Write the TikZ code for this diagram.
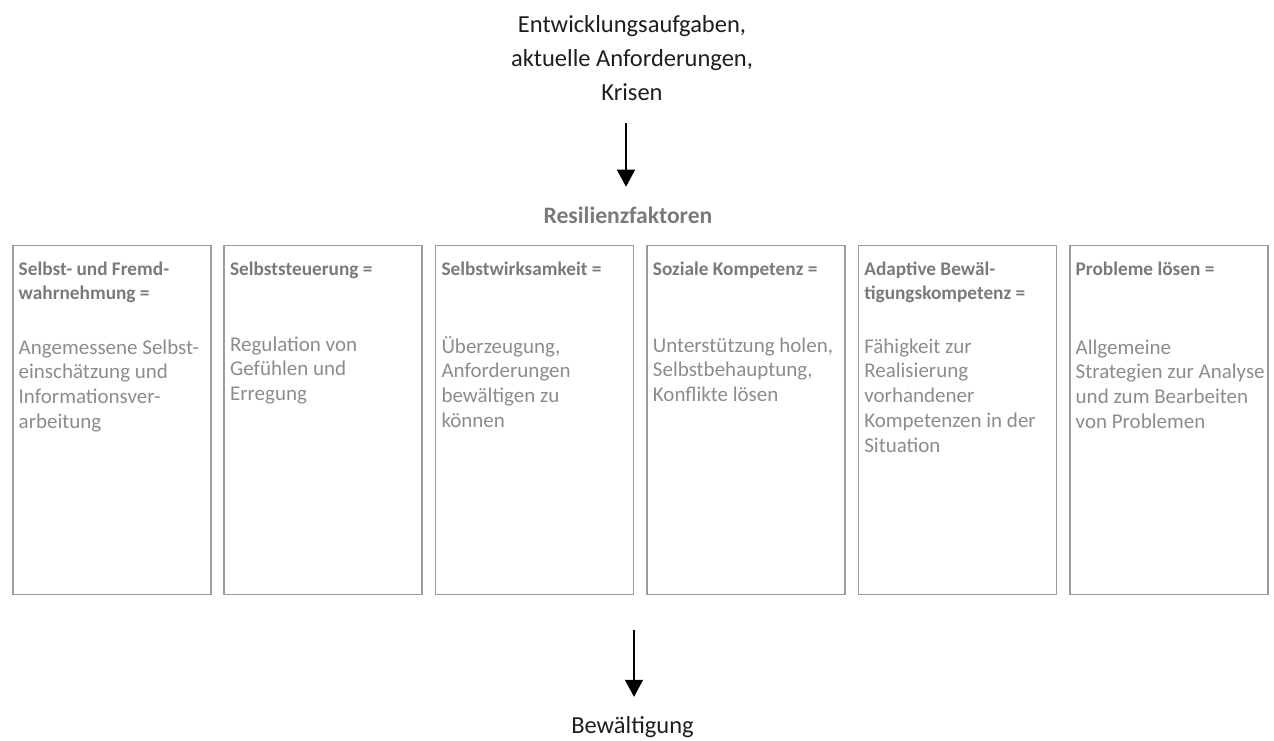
\documentclass[tikz,border=0pt]{standalone}
\usepackage{fontspec}
\setmainfont{Carlito}
\usetikzlibrary{arrows.meta,calc}
\definecolor{boxgray}{HTML}{9C9C9C}
\definecolor{hdgray}{HTML}{7A7A7A}
\definecolor{txtgray}{HTML}{8C8C8C}
\definecolor{dark}{HTML}{1E1E1E}
\begin{document}
\begin{tikzpicture}[x=1pt,y=-1pt,
  factor/.style={draw=boxgray,line width=1.6pt,minimum width=198pt,minimum height=349pt,anchor=north west,inner sep=0pt},
  head/.style={anchor=base west,align=left,inner sep=0pt,font=\fontsize{19.3}{24}\selectfont\bfseries,text=hdgray},
  body/.style={anchor=base west,align=left,inner sep=0pt,font=\fontsize{21}{24.8}\selectfont,text=txtgray},
  big/.style={inner sep=0pt,align=center,font=\fontsize{24.5}{34}\selectfont,text=dark},
  arr/.style={-{Triangle[width=18pt,length=17pt]},line width=1.3pt,black}]
\useasboundingbox (0,0) rectangle (1274,740);

% title (base anchor = last line baseline)
\node[big,anchor=base] (title) at (632,100) {Entwicklungsaufgaben,\\aktuelle Anforderungen,\\Krisen};
\node[inner sep=0pt,anchor=base,font=\fontsize{23.6}{28}\selectfont\bfseries,text=hdgray] (res) at (628,223) {Resilienzfaktoren};
\coordinate (tstart) at (626,123);
\draw[arr] (tstart) -- ([yshift=19.5pt]tstart |- res.north);

% boxes
\node[factor] (b1) at (12,244.5) {};
\node[factor] (b2) at (223.4,244.5) {};
\node[factor] (b3) at (434.8,244.5) {};
\node[factor] (b4) at (646.2,244.5) {};
\node[factor] (b5) at (857.6,244.5) {};
\node[factor] (b6) at (1069,244.5) {};

% headers (base anchor = last line baseline)
\node[head] (h1) at (18.5,299) {Selbst- und Fremd-\\wahrnehmung =};
\node[head] (h2) at (229.9,275) {Selbststeuerung =};
\node[head] (h3) at (441.3,275) {Selbstwirksamkeit =};
\node[head] (h4) at (652.7,275) {Soziale Kompetenz =};
\node[head] (h5) at (864.1,299) {Adaptive Bewäl-\\tigungskompetenz =};
\node[head] (h6) at (1075.5,275) {Probleme lösen =};

% bodies (line pitch 24.8)
\node[body] (t1) at (18.5,428.4) {Angemessene Selbst-\\einschätzung und\\Informationsver-\\arbeitung};
\node[body] (t2) at (229.9,400.6) {Regulation von\\Gefühlen und\\Erregung};
\node[body] (t3) at (441.3,427.4) {Überzeugung,\\Anforderungen\\bewältigen zu\\können};
\node[body] (t4) at (652.7,401.6) {Unterstützung holen,\\Selbstbehauptung,\\Konflikte lösen};
\node[body] (t5) at (864.1,452.2) {Fähigkeit zur\\Realisierung\\vorhandener\\Kompetenzen in der\\Situation};
\node[body] (t6) at (1075.5,428.4) {Allgemeine\\Strategien zur Analyse\\und zum Bearbeiten\\von Problemen};

% bottom
\node[big,anchor=base] (bew) at (632.5,733) {Bewältigung};
\coordinate (bstart) at (634,630);
\draw[arr] (bstart) -- ([yshift=19pt]bstart |- bew.north);
\end{tikzpicture}
\end{document}
